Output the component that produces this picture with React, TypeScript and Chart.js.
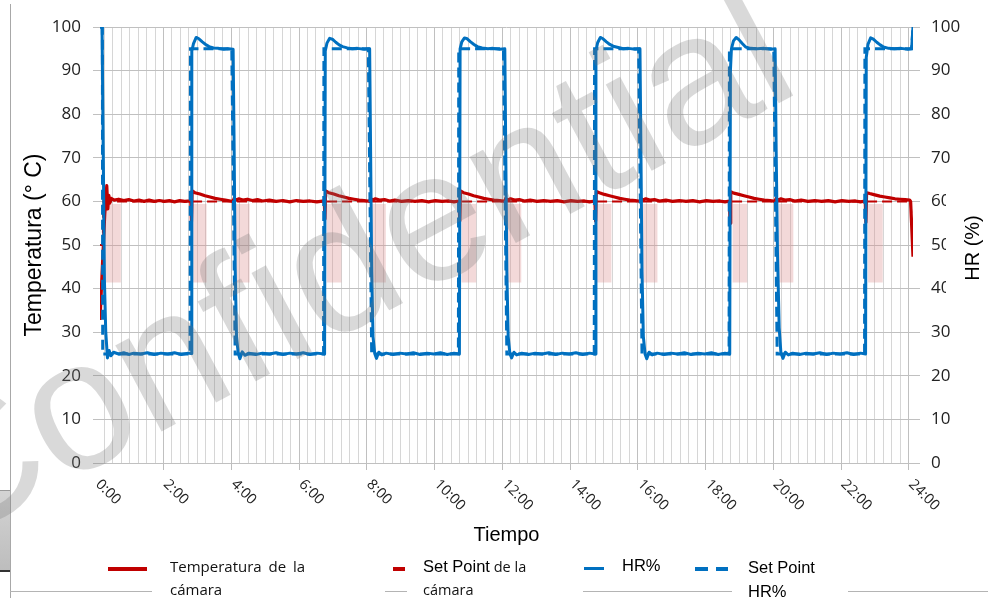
import React, { useEffect, useRef } from 'react';
import { Chart, registerables } from 'chart.js';

Chart.register(...registerables);

// ---------- DATA (hours, value) ----------
const hrPoints: [number, number][] = [
  [0, 100], [0.06, 100], [0.1, 68], [0.13, 42], [0.17, 30], [0.22, 24.1], [0.27, 25.8], [0.32, 24.6], [0.4, 25.4], [0.55, 25.0], [0.7, 25.3], [0.85, 24.9], [1.0, 25.2], [1.2, 25.0], [1.4, 25.3], [1.6, 24.9], [1.8, 25.2], [2.0, 25.0], [2.2, 25.3], [2.4, 24.9], [2.6, 25.2], [2.69, 25.1],
  [2.71, 94.5], [2.76, 96.2], [2.84, 97.6], [2.92, 97.3], [3.02, 96.6], [3.12, 96.0], [3.22, 95.5], [3.35, 95.2], [3.5, 95.1], [3.65, 94.9], [3.8, 95.0], [3.93, 94.9],
  [3.96, 72], [3.99, 45], [4.03, 29], [4.08, 25.2], [4.13, 23.9], [4.2, 25.5], [4.28, 24.7], [4.4, 25.2], [4.6, 24.9], [4.8, 25.2], [5.0, 25.0], [5.2, 25.3], [5.4, 24.9], [5.6, 25.2], [5.8, 25.0], [6.0, 25.3], [6.2, 24.9], [6.4, 25.2], [6.63, 25.0],
  [6.65, 94.5], [6.7, 96.3], [6.78, 97.4], [6.86, 97.2], [6.96, 96.5], [7.06, 95.9], [7.16, 95.5], [7.3, 95.2], [7.45, 95.0], [7.6, 95.1], [7.8, 94.9], [7.96, 95.0],
  [7.99, 70], [8.02, 44], [8.06, 29], [8.11, 25.1], [8.16, 24.0], [8.23, 25.4], [8.32, 24.8], [8.45, 25.2], [8.65, 24.9], [8.85, 25.2], [9.05, 25.0], [9.25, 25.3], [9.45, 24.9], [9.65, 25.2], [9.85, 25.0], [10.05, 25.3], [10.25, 24.9], [10.45, 25.2], [10.61, 25.0],
  [10.63, 95.0], [10.68, 96.6], [10.76, 97.5], [10.84, 97.3], [10.94, 96.6], [11.04, 96.0], [11.14, 95.5], [11.28, 95.2], [11.45, 95.0], [11.6, 95.1], [11.8, 94.9], [11.95, 95.0],
  [11.98, 70], [12.01, 44], [12.05, 29], [12.1, 25.1], [12.15, 24.1], [12.22, 25.4], [12.3, 24.8], [12.45, 25.2], [12.65, 24.9], [12.85, 25.2], [13.05, 25.0], [13.25, 25.3], [13.45, 24.9], [13.65, 25.2], [13.85, 25.0], [14.05, 25.3], [14.25, 24.9], [14.45, 25.2], [14.62, 25.0],
  [14.64, 94.5], [14.69, 96.4], [14.77, 97.6], [14.85, 97.3], [14.95, 96.6], [15.05, 96.0], [15.15, 95.6], [15.3, 95.3], [15.45, 95.0], [15.6, 95.1], [15.8, 94.9], [15.94, 95.0],
  [15.97, 70], [16.0, 44], [16.04, 29], [16.09, 25.0], [16.14, 23.9], [16.21, 25.4], [16.3, 24.8], [16.45, 25.2], [16.65, 24.9], [16.85, 25.2], [17.05, 25.0], [17.25, 25.3], [17.45, 24.9], [17.65, 25.2], [17.85, 25.0], [18.05, 25.3], [18.25, 24.9], [18.45, 25.2], [18.59, 25.0],
  [18.61, 90], [18.64, 95], [18.7, 96.8], [18.78, 97.6], [18.86, 97.1], [18.96, 96.2], [19.06, 95.4], [19.2, 95.1], [19.4, 95.0], [19.6, 95.1], [19.8, 94.9], [19.93, 95.0],
  [19.96, 72], [20.0, 48], [20.05, 31], [20.1, 25.3], [20.16, 24.0], [20.23, 25.4], [20.32, 24.8], [20.45, 25.2], [20.65, 24.9], [20.85, 25.2], [21.05, 25.0], [21.25, 25.3], [21.45, 24.9], [21.65, 25.2], [21.85, 25.0], [22.05, 25.3], [22.25, 24.9], [22.45, 25.2], [22.6, 25.0],
  [22.62, 93], [22.67, 96.0], [22.75, 97.5], [22.83, 97.2], [22.93, 96.5], [23.03, 95.9], [23.13, 95.4], [23.28, 95.1], [23.45, 95.0], [23.65, 95.1], [23.85, 94.9], [23.96, 95.0], [24, 100],
];

const hrSetPoints: [number, number][] = [
  [0, 100], [0.07, 100], [0.08, 25], [2.66, 25], [2.67, 95], [3.89, 95], [3.99, 25],
  [6.6, 25], [6.61, 95], [7.92, 95], [8.02, 25], [10.58, 25], [10.59, 95], [11.91, 95], [12.01, 25],
  [14.59, 25], [14.6, 95], [15.9, 95], [16.0, 25], [18.57, 25], [18.58, 95], [19.89, 95], [19.99, 25],
  [22.57, 25], [22.58, 95], [23.96, 95], [24, 100],
];

const tempPoints: [number, number][] = [
  [0, 32.8], [0.07, 45], [0.14, 57], [0.2, 63.6], [0.23, 58.3], [0.26, 61.4], [0.29, 59.6], [0.33, 60.7], [0.42, 60.3], [0.55, 60.5], [0.7, 60.2], [0.85, 60.4], [1.0, 60.1], [1.15, 60.3], [1.3, 60.0], [1.45, 60.3], [1.6, 60.0], [1.75, 60.2], [1.9, 60.0], [2.05, 60.2], [2.2, 59.9], [2.35, 60.2], [2.5, 60.0], [2.68, 60.1],
  [2.70, 55.3], [2.72, 62.4], [2.8, 62.0], [2.95, 61.7], [3.1, 61.3], [3.25, 61.0], [3.4, 60.7], [3.55, 60.5], [3.7, 60.3], [3.85, 60.1], [3.93, 60.0],
  [3.96, 60.7], [4.02, 60.3], [4.1, 60.6], [4.22, 60.3], [4.35, 60.5], [4.5, 60.2], [4.65, 60.4], [4.8, 60.1], [5.0, 60.3], [5.2, 60.0], [5.4, 60.2], [5.6, 59.9], [5.8, 60.2], [6.0, 60.0], [6.2, 60.1], [6.4, 59.9], [6.62, 60.1],
  [6.64, 56.0], [6.66, 62.4], [6.75, 62.0], [6.9, 61.7], [7.05, 61.3], [7.2, 61.0], [7.35, 60.7], [7.5, 60.5], [7.65, 60.3], [7.8, 60.2], [7.96, 60.0],
  [7.99, 60.7], [8.05, 60.3], [8.13, 60.6], [8.25, 60.3], [8.4, 60.4], [8.55, 60.1], [8.7, 60.3], [8.9, 60.0], [9.1, 60.2], [9.3, 60.0], [9.5, 60.2], [9.7, 59.9], [9.9, 60.2], [10.1, 60.0], [10.3, 60.1], [10.45, 59.9], [10.6, 60.1],
  [10.62, 55.5], [10.64, 62.4], [10.73, 62.0], [10.88, 61.7], [11.03, 61.3], [11.18, 61.0], [11.33, 60.7], [11.48, 60.5], [11.63, 60.3], [11.8, 60.2], [11.95, 60.0],
  [11.98, 60.7], [12.04, 60.3], [12.12, 60.6], [12.24, 60.3], [12.38, 60.4], [12.53, 60.1], [12.7, 60.3], [12.9, 60.0], [13.1, 60.2], [13.3, 60.0], [13.5, 60.2], [13.7, 59.9], [13.9, 60.2], [14.1, 60.0], [14.3, 60.1], [14.45, 59.9], [14.61, 60.1],
  [14.63, 55.5], [14.65, 62.3], [14.74, 62.0], [14.89, 61.6], [15.04, 61.3], [15.19, 61.0], [15.34, 60.7], [15.49, 60.5], [15.64, 60.3], [15.8, 60.2], [15.94, 60.0],
  [15.97, 60.7], [16.03, 60.3], [16.11, 60.6], [16.23, 60.3], [16.37, 60.4], [16.52, 60.1], [16.7, 60.3], [16.9, 60.0], [17.1, 60.2], [17.3, 60.0], [17.5, 60.2], [17.7, 59.9], [17.9, 60.2], [18.1, 60.0], [18.3, 60.1], [18.45, 59.9], [18.58, 60.1],
  [18.6, 55.0], [18.62, 62.2], [18.71, 61.9], [18.86, 61.6], [19.01, 61.3], [19.16, 61.0], [19.31, 60.7], [19.46, 60.5], [19.61, 60.3], [19.78, 60.2], [19.93, 60.0],
  [19.96, 60.7], [20.02, 60.3], [20.1, 60.6], [20.22, 60.3], [20.36, 60.4], [20.51, 60.1], [20.7, 60.3], [20.9, 60.0], [21.1, 60.2], [21.3, 60.0], [21.5, 60.2], [21.7, 59.9], [21.9, 60.2], [22.1, 60.0], [22.3, 60.1], [22.45, 59.9], [22.59, 60.1],
  [22.61, 55.2], [22.63, 62.0], [22.72, 61.8], [22.87, 61.5], [23.02, 61.2], [23.17, 61.0], [23.32, 60.8], [23.47, 60.6], [23.62, 60.5], [23.77, 60.4], [23.9, 60.3], [23.93, 60.0], [24, 47.3],
];

const tempSetPoints: [number, number][] = [
  [0, 50], [0.08, 50], [0.1, 60], [23.93, 60], [24, 50],
];

// pale pink zones (hour centre), spanning the value range below
const firstZoneCenter = [0.34];
const zoneCenters = [2.93, 4.2, 6.91, 8.22, 10.89, 12.22, 14.88, 16.24, 18.89, 20.25, 22.89];
const zoneRange: [number, number] = [41.5, 59.3];

const hourTicks = [0, 2, 4, 6, 8, 10, 12, 14, 16, 18, 20, 22, 24];
const hourLabels = ['0:00', '2:00', '4:00', '6:00', '8:00', '10:00', '12:00', '14:00', '16:00', '18:00', '20:00', '22:00', '24:00'];

const toXY = (pts: [number, number][]) => pts.map(([x, y]) => ({ x, y }));

const BLUE = '#0070C0';
const RED = '#C00000';

const extraText = {
  id: 'extraText',
  afterDraw(chart: any) {
    const { ctx, chartArea } = chart;
    const x = chart.scales.x;
    ctx.save();
    ctx.font = '14.5px "Open Sans"';
    ctx.fillStyle = '#222';
    ctx.textAlign = 'left';
    ctx.textBaseline = 'middle';
    hourTicks.forEach((h, i) => {
      const px = x.getPixelForValue(h);
      ctx.save();
      ctx.translate(px - 2, chartArea.bottom + 19);
      ctx.rotate(Math.PI / 4);
      ctx.fillText(hourLabels[i], 0, 0);
      ctx.restore();
    });
    // right axis title (reads bottom-to-top), with white backing box
    const cy = (chartArea.top + chartArea.bottom) / 2;
    ctx.fillStyle = '#fff';
    ctx.fillRect(chart.width - 42, cy - 70, 42, 130);
    ctx.translate(chart.width - 15, cy + 3);
    ctx.rotate(-Math.PI / 2);
    ctx.font = '20px "Liberation Sans"';
    ctx.fillStyle = '#000';
    ctx.textAlign = 'center';
    ctx.fillText('HR (%)', 0, 0);
    ctx.restore();
  },
};

function ChartCanvas() {
  const ref = useRef<HTMLCanvasElement | null>(null);
  useEffect(() => {
    if (!ref.current) return;
    const isMajor = (c: any) => c.tick && Math.abs(c.tick.value % 2) < 1e-6;
    const chart = new Chart(ref.current, {
      type: 'line',
      data: {
        datasets: [
          { type: 'line', label: 'HR%', data: toXY(hrPoints), yAxisID: 'y1', borderColor: BLUE, borderWidth: 3, pointRadius: 0, tension: 0, borderJoinStyle: 'round', order: 0 },
          { type: 'line', label: 'Set Point HR%', data: toXY(hrSetPoints), yAxisID: 'y1', borderColor: BLUE, borderWidth: 3, borderDash: [10, 5], pointRadius: 0, tension: 0, order: 1 },
          { type: 'line', label: 'Temperatura de la cámara', data: toXY(tempPoints), yAxisID: 'y', borderColor: RED, borderWidth: 3.2, pointRadius: 0, tension: 0, borderJoinStyle: 'round', order: 2 },
          { type: 'line', label: 'Set Point de la cámara', data: toXY(tempSetPoints), yAxisID: 'y', borderColor: RED, borderWidth: 2, borderDash: [10, 5], pointRadius: 0, tension: 0, order: 3 },
          { type: 'bar', label: 'zona', data: zoneCenters.map((x) => ({ x, y: zoneRange })), yAxisID: 'y', backgroundColor: 'rgba(220,140,140,0.33)', borderWidth: 0, barThickness: 14, grouped: false, order: 10 },
          { type: 'bar', label: 'zona inicial', data: firstZoneCenter.map((x) => ({ x, y: zoneRange })), yAxisID: 'y', backgroundColor: 'rgba(220,140,140,0.33)', borderWidth: 0, barThickness: 18, grouped: false, order: 11 },
        ] as any,
      },
      options: {
        responsive: false,
        animation: false,
        events: [],
        layout: { padding: { top: 27, left: 0, right: 0, bottom: 0 } },
        plugins: { legend: { display: false }, tooltip: { enabled: false } },
        scales: {
          x: {
            type: 'linear', min: 0, max: 24, offset: false,
            ticks: { display: false, stepSize: 0.25, autoSkip: false },
            grid: {
              color: (c: any) => (isMajor(c) ? '#c0c0c0' : '#d6d6d6'),
              lineWidth: 1, drawTicks: true, tickLength: 7,
              tickColor: (c: any) => (isMajor(c) ? '#bdbdbd' : 'rgba(0,0,0,0)'),
            },
            border: { display: false },
            title: { display: true, text: 'Tiempo', color: '#000', font: { family: 'Liberation Sans', size: 20 }, padding: { top: 0, bottom: 51 } },
            afterFit: (s: any) => { s.height = 135; },
          },
          y: {
            position: 'left', min: 0, max: 100,
            ticks: { stepSize: 10, color: '#222', font: { family: 'Open Sans', size: 17 }, padding: 12 },
            grid: { color: '#c0c0c0', lineWidth: 1, tickLength: 7, tickColor: '#c0c0c0' },
            border: { display: false },
            title: { display: true, text: 'Temperatura (° C)', color: '#000', font: { family: 'Liberation Sans', size: 23 }, padding: { top: 21, bottom: 0 } },
            afterFit: (s: any) => { s.width = 100; },
          },
          y1: {
            position: 'right', min: 0, max: 100,
            ticks: { stepSize: 10, color: '#222', font: { family: 'Open Sans', size: 17 }, padding: 11 },
            grid: { drawOnChartArea: false, color: '#c0c0c0', tickLength: 7, tickColor: '#c0c0c0' },
            border: { display: false },
            afterFit: (s: any) => { s.width = 75; },
          },
        },
      } as any,
      plugins: [extraText],
    });
    return () => chart.destroy();
  }, []);
  return <canvas ref={ref} width={988} height={598} style={{ position: 'absolute', left: 0, top: 0, width: 988, height: 598 }} />;
}

const abs = (s: React.CSSProperties): React.CSSProperties => ({ position: 'absolute', ...s });

export default function App() {
  const legendFont = '"Open Sans", sans-serif';
  const arial = '"Liberation Sans", Arial, sans-serif';
  return (
    <div style={{ position: 'fixed', left: 0, top: 0, width: 988, height: 598, background: '#fff', overflow: 'hidden' }}>
      <ChartCanvas />
      {/* page artefacts */}
      <div style={abs({ left: 10, top: 4, width: 1, height: 594, background: '#a8a8a8' })} />
      <div style={abs({ left: 0, top: 490, width: 10, height: 79, background: 'linear-gradient(#d4d4d4,#bdbdbd)', borderTop: '1px solid #9a9a9a', borderBottom: '2px solid #333' })} />
      <div style={abs({ left: 10, top: 591, width: 978, height: 1, background: '#b4b4b4' })} />
      {/* legend backing boxes */}
      <div style={abs({ left: 152, top: 548, width: 233, height: 50, background: '#fff' })} />
      <div style={abs({ left: 407, top: 548, width: 176, height: 50, background: '#fff' })} />
      <div style={abs({ left: 732, top: 548, width: 116, height: 50, background: '#fff' })} />
      {/* legend */}
      <div style={abs({ left: 108, top: 567, width: 39, height: 3.5, background: RED })} />
      <div style={abs({ left: 170, top: 555, lineHeight: '23px', fontFamily: legendFont, fontSize: 15, color: '#111', wordSpacing: 3, whiteSpace: 'nowrap' })}>
        Temperatura de la<br />cámara
      </div>
      <div style={abs({ left: 393, top: 566.5, width: 12, height: 4, background: RED })} />
      <div style={abs({ left: 423, top: 555, lineHeight: '23px', fontFamily: legendFont, fontSize: 14.5, color: '#111', whiteSpace: 'nowrap' })}>
        <span style={{ fontFamily: arial, fontSize: 16.5, color: '#000' }}>Set Point</span> de la<br />cámara
      </div>
      <div style={abs({ left: 584, top: 566.5, width: 20, height: 3.5, background: BLUE })} />
      <div style={abs({ left: 622, top: 554, lineHeight: '23px', fontFamily: arial, fontSize: 16.5, color: '#000', whiteSpace: 'nowrap' })}>HR%</div>
      <div style={abs({ left: 695, top: 566.5, width: 13, height: 4, background: BLUE })} />
      <div style={abs({ left: 716, top: 566.5, width: 12, height: 4, background: BLUE })} />
      <div style={abs({ left: 748, top: 555, lineHeight: '24px', fontFamily: arial, fontSize: 16.5, color: '#000', whiteSpace: 'nowrap' })}>
        Set Point<br />HR%
      </div>
      {/* watermark */}
      <div style={abs({ left: 343, top: 263, width: 0, height: 0 })}>
        <div style={{ position: 'absolute', left: 0, top: 0, transform: 'translate(-50%, -50%) rotate(-28deg)', fontFamily: arial, fontSize: 185, lineHeight: 1, color: 'rgba(120,120,120,0.28)', whiteSpace: 'nowrap', pointerEvents: 'none' }}>
          Confidential
        </div>
      </div>
    </div>
  );
}
